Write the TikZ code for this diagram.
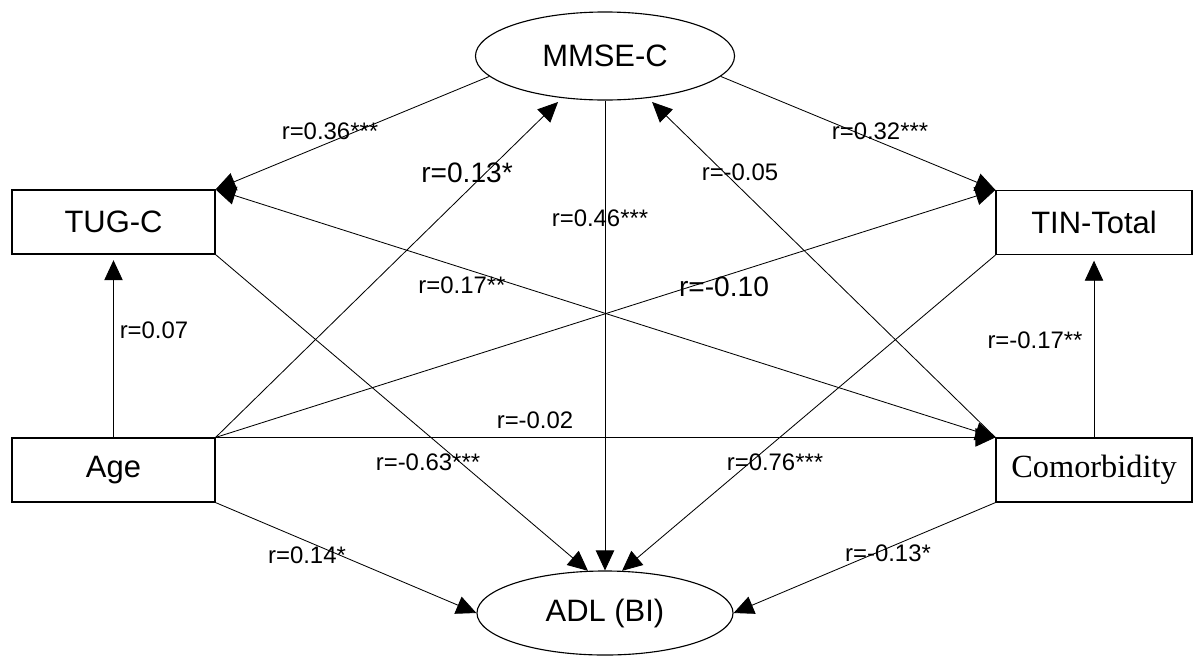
\documentclass[tikz,border=0pt]{standalone}
\usepackage{fontspec}
\setmainfont{Liberation Sans}
\newfontfamily\serifcm{Liberation Serif}
\usetikzlibrary{shapes.geometric,arrows.meta}
\begin{document}
\begin{tikzpicture}[x=0.025cm,y=-0.025cm,
  box/.style={draw,line width=0.8pt,minimum width=5.075cm,minimum height=1.6cm,inner sep=0pt,font=\fontsize{22}{24}\selectfont},
  oval/.style={draw,ellipse,line width=0.8pt,inner sep=0pt,font=\fontsize{22}{24}\selectfont},
  conn/.style={line width=0.6pt,-{Triangle[length=0.5cm,width=0.46cm]}},
  biconn/.style={line width=0.6pt,{Triangle[length=0.5cm,width=0.46cm]}-{Triangle[length=0.5cm,width=0.46cm]}},
  lbl/.style={inner sep=0pt,font=\fontsize{17}{19}\selectfont},
  biglbl/.style={inner sep=0pt,font=\fontsize{20}{22}\selectfont}]
\fill[white] (0,0) rectangle (1194,659);
\useasboundingbox (0,0) rectangle (1194,659);
% nodes
\node[oval,minimum width=6.475cm,minimum height=2.2cm] (mmse) at (605,56) {MMSE-C};
\node[oval,minimum width=6.4cm,minimum height=2.1cm] (adl) at (605,613) {ADL (BI)};
\node[box] (tug) at (113.5,222) {TUG-C};
\node[box] (age) at (113.5,470) {Age};
\node[box,minimum width=4.9cm] (tin) at (1094,222.5) {TIN-Total};
\node[box,minimum width=4.9cm,font=\serifcm\fontsize{23}{25}\selectfont] (com) at (1094,470) {Comorbidity};
% connectors
\draw[conn] (mmse.190) -- (tug.north east);
\draw[conn] (mmse.-10) -- (tin.north west);
\draw[conn,shorten >=4pt] (age.north east) -- (mmse);
\draw[conn,shorten >=4pt] (com.north west) -- (mmse);
\draw[conn] (mmse.south) -- (adl.north);
\draw[conn] (tug.south east) -- (adl.112);
\draw[conn] (tin.south west) -- (adl.68);
\draw[conn,shorten >=4pt] (age.north) -- (tug.south);
\draw[conn,shorten >=4pt] (com.north) -- (tin.south);
\draw[conn] (age.north east) -- (tin.north west);
\draw[biconn] (tug.north east) -- (com.north west);
\draw[conn] (age.north east) -- (com.north west);
\draw[conn] (age.south east) -- (adl.west);
\draw[conn] (com.south west) -- (adl.east);
% labels
\node[lbl] (l1) at (330,131) {r=0.36***};
\node[lbl] (l2) at (880,131) {r=0.32***};
\node[biglbl] (l3) at (467,173) {r=0.13*};
\node[lbl] (l4) at (740,172) {r=-0.05};
\node[lbl] (l5) at (600,218) {r=0.46***};
\node[lbl] (l6) at (462,285) {r=0.17**};
\node[biglbl] (l7) at (724,287) {r=-0.10};
\node[lbl] (l8) at (154,330) {r=0.07};
\node[lbl] (l9) at (1035,340) {r=-0.17**};
\node[lbl] (l10) at (535,420) {r=-0.02};
\node[lbl] (l11) at (428,462) {r=-0.63***};
\node[lbl] (l12) at (775,462) {r=0.76***};
\node[lbl] (l13) at (307,555) {r=0.14*};
\node[lbl] (l14) at (888,553) {r=-0.13*};
\end{tikzpicture}
\end{document}
